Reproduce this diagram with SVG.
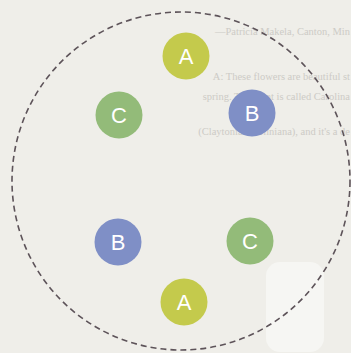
<svg xmlns="http://www.w3.org/2000/svg" width="351" height="353" viewBox="0 0 351 353">
<style>
.bg{fill:#efeee9}
.ghost{font-family:"Liberation Serif",serif;font-size:10.5px;fill:#cdcbc6;text-anchor:end}
.ring{fill:none;stroke:#5d5359;stroke-width:1.6;stroke-dasharray:6 4}
.dot text{font-family:"Liberation Sans",Arial,sans-serif;font-size:22px;fill:#ffffff;text-anchor:middle}
.a{fill:#c4ca4c}
.b{fill:#7f8fc6}
.c{fill:#93bb79}
</style>
<rect class="bg" width="351" height="353"/>
<g id="page-text">
<text class="ghost" x="350" y="35">—Patricia Makela, Canton, Min</text>
<text class="ghost" x="350" y="80">A: These flowers are beautiful st</text>
<text class="ghost" x="350" y="100">spring. The plant is called Carolina</text>
<text class="ghost" x="350" y="135">(Claytonia caroliniana), and it's a de</text>
</g>
<rect x="266" y="262" width="58" height="90" rx="14" fill="#f6f6f3"/>
<g id="connectors">
<circle class="ring" cx="181" cy="181" r="169"/>
</g>
<g id="node-a-top" class="dot"><circle class="a" cx="186" cy="56" r="23.5"/><text x="186" y="64">A</text></g>
<g id="node-c-top" class="dot"><circle class="c" cx="119" cy="115" r="23.5"/><text x="119" y="123">C</text></g>
<g id="node-b-top" class="dot"><circle class="b" cx="252" cy="113" r="23.5"/><text x="252" y="121">B</text></g>
<g id="node-b-bottom" class="dot"><circle class="b" cx="118" cy="242" r="23.5"/><text x="118" y="250">B</text></g>
<g id="node-c-bottom" class="dot"><circle class="c" cx="250" cy="241" r="23.5"/><text x="250" y="249">C</text></g>
<g id="node-a-bottom" class="dot"><circle class="a" cx="184" cy="302" r="23.5"/><text x="184" y="310">A</text></g>
</svg>
